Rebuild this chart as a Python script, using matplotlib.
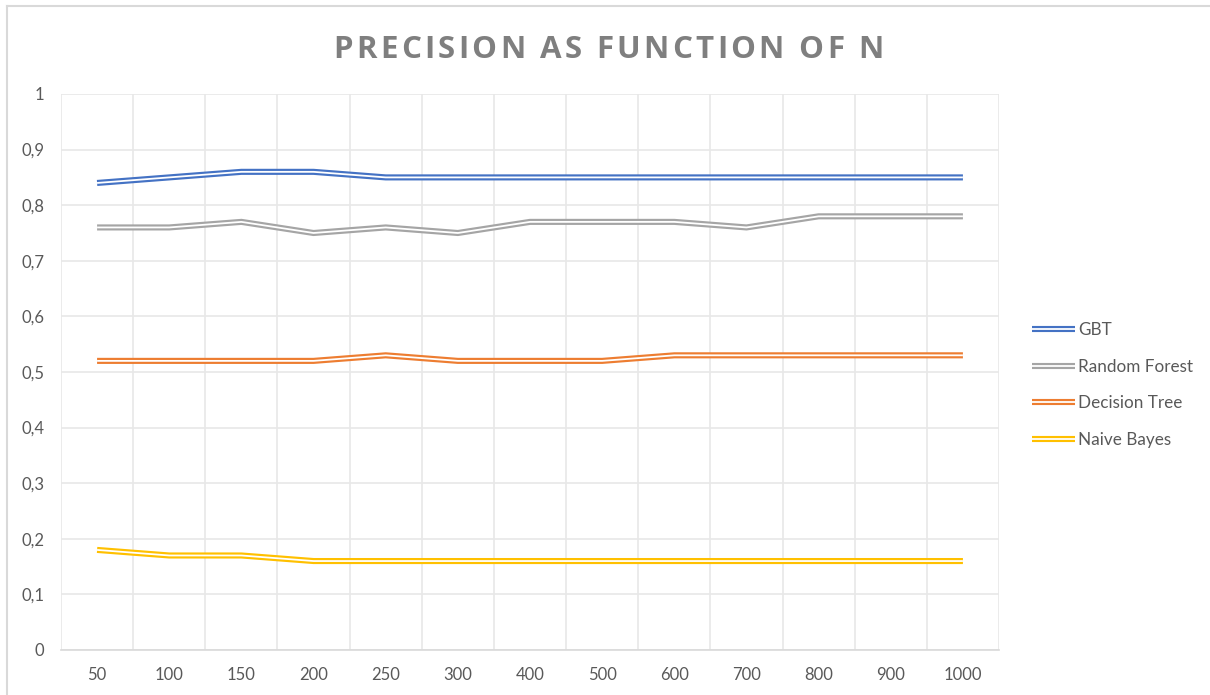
import matplotlib
matplotlib.use("Agg")
import matplotlib.pyplot as plt
import matplotlib.patheffects as pe
from matplotlib.lines import Line2D
import numpy as np

# Dados
n_labels = ["50", "100", "150", "200", "250", "300", "400", "500", "600", "700", "800", "900", "1000"]
gbt = [0.84, 0.85, 0.86, 0.86, 0.85, 0.85, 0.85, 0.85, 0.85, 0.85, 0.85, 0.85, 0.85]
random_forest = [0.76, 0.76, 0.77, 0.75, 0.76, 0.75, 0.77, 0.77, 0.77, 0.76, 0.78, 0.78, 0.78]
decision_tree = [0.52, 0.52, 0.52, 0.52, 0.53, 0.52, 0.52, 0.52, 0.53, 0.53, 0.53, 0.53, 0.53]
naive_bayes = [0.18, 0.17, 0.17, 0.16, 0.16, 0.16, 0.16, 0.16, 0.16, 0.16, 0.16, 0.16, 0.16]
y_ticks = [0, 0.1, 0.2, 0.3, 0.4, 0.5, 0.6, 0.7, 0.8, 0.9, 1]
title = "PRECISION AS FUNCTION OF N"

series = [
    ("GBT", gbt, "#4472C4"),
    ("Random Forest", random_forest, "#A5A5A5"),
    ("Decision Tree", decision_tree, "#ED7D31"),
    ("Naive Bayes", naive_bayes, "#FFC000"),
]

txt_color = "#595959"
plt.rcParams["font.family"] = ["Lato", "DejaVu Sans"]

W, H = 1210, 695
fig = plt.figure(figsize=(12.1, 6.95), dpi=100)
ax = fig.add_axes([61 / W, 45 / H, 938 / W, 556 / H])

x = np.arange(len(n_labels))

handles = []
for name, vals, c in series:
    ln, = ax.plot(x, vals, color="white", linewidth=1.3, solid_joinstyle="miter",
                  solid_capstyle="butt", label=name, zorder=3,
                  path_effects=[pe.Stroke(linewidth=4.4, foreground=c, joinstyle="miter", capstyle="butt"),
                                pe.Normal()])
    handles.append(ln)

ax.set_xlim(-0.5, len(n_labels) - 0.5)
ax.set_ylim(0, 1)

# grade vertical nas divisoes das categorias
ax.set_xticks(x)
ax.set_xticklabels(n_labels)
ax.set_xticks(np.arange(-0.5, len(n_labels), 1), minor=True)
ax.set_yticks(y_ticks)
ax.set_yticklabels([("%g" % v).replace(".", ",") for v in y_ticks])

ax.grid(which="minor", axis="x", color="#E8E8E8", linewidth=1.2)
ax.grid(which="major", axis="y", color="#E8E8E8", linewidth=1.2)
ax.set_axisbelow(True)

ax.tick_params(which="both", length=0)
ax.tick_params(axis="x", pad=12, labelsize=12, labelcolor=txt_color)
ax.tick_params(axis="y", pad=12, labelsize=12, labelcolor=txt_color)

ax.spines["top"].set_visible(False)
ax.spines["right"].set_visible(False)
ax.spines["left"].set_visible(False)
ax.spines["bottom"].set_color("#D9D9D9")
ax.spines["bottom"].set_linewidth(1.2)

# titulo com espacamento entre letras (desenhado letra a letra)
renderer = fig.canvas.get_renderer()
tkw = dict(fontsize=22.5, fontweight="bold", color="#7F7F7F", family=["Open Sans", "DejaVu Sans"],
           va="baseline", ha="left")
extra = 3.3  # px entre letras
widths = []
for ch in title:
    t = fig.text(0, 0, ch if ch != " " else "-", **tkw)
    w = t.get_window_extent(renderer).width
    widths.append(w if ch != " " else 0.8 * w)
    t.remove()
total = sum(widths) + extra * (len(title) - 1)
xpos = (608.5 - total / 2)
for ch, w in zip(title, widths):
    if ch != " ":
        fig.text(xpos / W, 1 - 58 / H, ch, **tkw)
    xpos += w + extra

leg = fig.legend(handles=handles, loc="center left", bbox_to_anchor=(1032 / W, 1 - 385 / H),
                 frameon=False, fontsize=12.3, handlelength=2.5, handletextpad=0.2,
                 labelspacing=1.2, borderpad=0, borderaxespad=0)
for t in leg.get_texts():
    t.set_color(txt_color)

# moldura do grafico (linha superior e esquerda)
fig.add_artist(Line2D([6.5 / W, 6.5 / W], [0, 1 - 5.5 / H], color="#D9D9D9", linewidth=1.5))
fig.add_artist(Line2D([6.5 / W, 1], [1 - 5.5 / H, 1 - 5.5 / H], color="#D9D9D9", linewidth=1.5))

plt.savefig("out.png", dpi=100)
plt.close()
